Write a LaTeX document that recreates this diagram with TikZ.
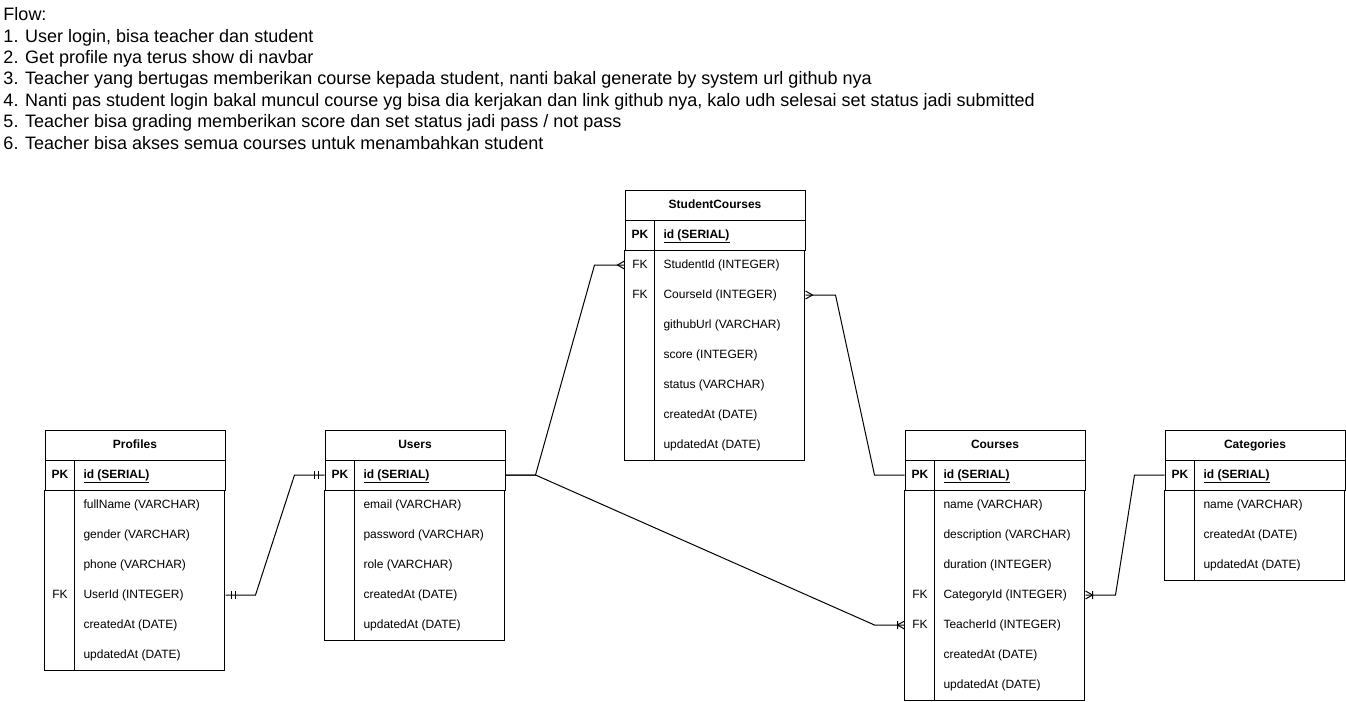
\documentclass[tikz,border=0pt]{standalone}
\usepackage{fontspec}
\setmainfont{Liberation Sans}
\usepackage{tikz}
\usetikzlibrary{positioning, calc}

\begin{document}
\begin{tikzpicture}[x=0.75pt, y=-0.75pt, line width=0.75pt,
    tablehead/.style={rectangle, draw, minimum width=135pt, minimum height=22.5pt,
                      inner sep=0pt, text height=7pt, text depth=2pt,
                      font=\fontsize{9}{11}\selectfont\bfseries},
    pkrow/.style={rectangle, draw, minimum width=135pt, minimum height=22.5pt, inner sep=0pt},
    fieldtext/.style={anchor=west, inner sep=0pt, text height=7pt, text depth=2pt,
                      font=\fontsize{9}{11}\selectfont},
    keytext/.style={inner sep=0pt, text height=7pt, text depth=2pt,
                    font=\fontsize{9}{11}\selectfont},
    one/.pic={\draw (6,-4) -- (6,4) (10,-4) -- (10,4);},
    many/.pic={\draw (0,-4) -- (7,0) -- (0,4);},
    onemany/.pic={\draw (0,-4) -- (7,0) -- (0,4) (7,-4) -- (7,4);}
]
\useasboundingbox (0,0) rectangle (1346,701);

% Flow notes
\node[anchor=north west, inner sep=0pt, align=left,
      font=\fontsize{13.5}{16.1}\selectfont] (flow) at (3,7)
  {Flow:\\
   1. User login, bisa teacher dan student\\
   2. Get profile nya terus show di navbar\\
   3. Teacher yang bertugas memberikan course kepada student, nanti bakal generate by system url github nya\\
   4. Nanti pas student login bakal muncul course yg bisa dia kerjakan dan link github nya, kalo udh selesai set status jadi submitted\\
   5. Teacher bisa grading memberikan score dan set status jadi pass / not pass\\
   6. Teacher bisa akses semua courses untuk menambahkan student};

% Profiles
\node[tablehead] (profiles) at (135,445) {Profiles};
\node[pkrow] (profilesPK) at (135,475) {};
\node[keytext, font=\fontsize{9}{11}\selectfont\bfseries] (profilesPKk) at (60,475) {PK};
\node[fieldtext, font=\fontsize{9}{11}\selectfont\bfseries] (profilesId) at (83,475) {\underline{id (SERIAL)}};
\foreach \f [count=\i] in {fullName (VARCHAR), gender (VARCHAR), phone (VARCHAR),
    UserId (INTEGER), createdAt (DATE), updatedAt (DATE)}
    \node[fieldtext] (profiles-\i) at (83,475+30*\i) {\f};
\node[keytext] (profilesFK) at (60,595) {FK};
\draw (profilesPK.south west) rectangle ++(180,180);
\draw (profiles.south west) ++(30,0) -- ++(0,210);

% Users
\node[tablehead] (users) at (415,445) {Users};
\node[pkrow] (usersPK) at (415,475) {};
\node[keytext, font=\fontsize{9}{11}\selectfont\bfseries] (usersPKk) at (340,475) {PK};
\node[fieldtext, font=\fontsize{9}{11}\selectfont\bfseries] (usersId) at (363,475) {\underline{id (SERIAL)}};
\foreach \f [count=\i] in {email (VARCHAR), password (VARCHAR), role (VARCHAR),
    createdAt (DATE), updatedAt (DATE)}
    \node[fieldtext] (users-\i) at (363,475+30*\i) {\f};
\draw (usersPK.south west) rectangle ++(180,150);
\draw (users.south west) ++(30,0) -- ++(0,180);

% StudentCourses
\node[tablehead] (stucourses) at (715,205) {StudentCourses};
\node[pkrow] (stucoursesPK) at (715,235) {};
\node[keytext, font=\fontsize{9}{11}\selectfont\bfseries] (stucoursesPKk) at (640,235) {PK};
\node[fieldtext, font=\fontsize{9}{11}\selectfont\bfseries] (stucoursesId) at (663,235) {\underline{id (SERIAL)}};
\foreach \f [count=\i] in {StudentId (INTEGER), CourseId (INTEGER), githubUrl (VARCHAR),
    score (INTEGER), status (VARCHAR), createdAt (DATE), updatedAt (DATE)}
    \node[fieldtext] (stucourses-\i) at (663,235+30*\i) {\f};
\node[keytext] (stucoursesFK1) at (640,265) {FK};
\node[keytext] (stucoursesFK2) at (640,295) {FK};
\draw (stucoursesPK.south west) rectangle ++(180,210);
\draw (stucourses.south west) ++(30,0) -- ++(0,240);

% Courses
\node[tablehead] (courses) at (995,445) {Courses};
\node[pkrow] (coursesPK) at (995,475) {};
\node[keytext, font=\fontsize{9}{11}\selectfont\bfseries] (coursesPKk) at (920,475) {PK};
\node[fieldtext, font=\fontsize{9}{11}\selectfont\bfseries] (coursesId) at (943,475) {\underline{id (SERIAL)}};
\foreach \f [count=\i] in {name (VARCHAR), description (VARCHAR), duration (INTEGER),
    CategoryId (INTEGER), TeacherId (INTEGER), createdAt (DATE), updatedAt (DATE)}
    \node[fieldtext] (courses-\i) at (943,475+30*\i) {\f};
\node[keytext] (coursesFK1) at (920,595) {FK};
\node[keytext] (coursesFK2) at (920,625) {FK};
\draw (coursesPK.south west) rectangle ++(180,210);
\draw (courses.south west) ++(30,0) -- ++(0,240);

% Categories
\node[tablehead] (categories) at (1255,445) {Categories};
\node[pkrow] (categoriesPK) at (1255,475) {};
\node[keytext, font=\fontsize{9}{11}\selectfont\bfseries] (categoriesPKk) at (1180,475) {PK};
\node[fieldtext, font=\fontsize{9}{11}\selectfont\bfseries] (categoriesId) at (1203,475) {\underline{id (SERIAL)}};
\foreach \f [count=\i] in {name (VARCHAR), createdAt (DATE), updatedAt (DATE)}
    \node[fieldtext] (categories-\i) at (1203,475+30*\i) {\f};
\draw (categoriesPK.south west) rectangle ++(180,90);
\draw (categories.south west) ++(30,0) -- ++(0,120);

% Relations
\draw (profiles.east |- profiles-4) -- ++(30,0)
   -- ([xshift=-22.5pt]users.west |- usersPK) -- (users.west |- usersPK);
\pic at (profiles.east |- profiles-4) {one};
\pic[xscale=-1] at (users.west |- usersPK) {one};

\draw (users.east |- usersPK) -- ++(30,0)
   -- ([xshift=-22.5pt]stucourses.west |- stucourses-1) -- (stucourses.west |- stucourses-1);
\pic[xscale=-1] at (stucourses.west |- stucourses-1) {many};

\draw (users.east |- usersPK) -- ++(30,0)
   -- ([xshift=-22.5pt]courses.west |- courses-5) -- (courses.west |- courses-5);
\pic[xscale=-1] at (courses.west |- courses-5) {onemany};

\draw (stucourses.east |- stucourses-2) -- ++(30,0)
   -- ([xshift=-22.5pt]courses.west |- coursesPK) -- (courses.west |- coursesPK);
\pic at (stucourses.east |- stucourses-2) {many};

\draw (courses.east |- courses-4) -- ++(30,0)
   -- ([xshift=-22.5pt]categories.west |- categoriesPK) -- (categories.west |- categoriesPK);
\pic at (courses.east |- courses-4) {onemany};

\end{tikzpicture}
\end{document}
